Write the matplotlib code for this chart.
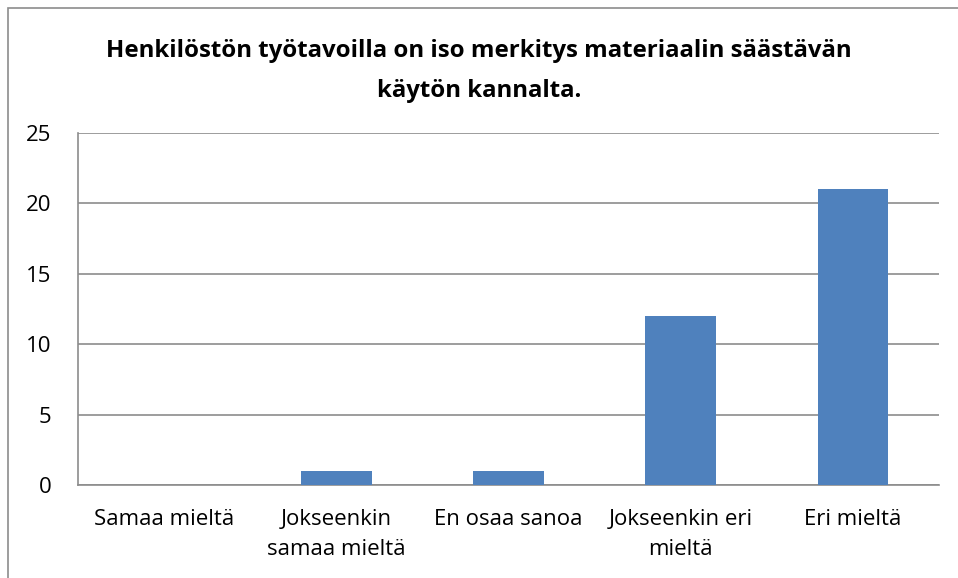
import matplotlib
matplotlib.use("Agg")
import matplotlib.pyplot as plt
from matplotlib.patches import Rectangle

plt.rcParams['font.family'] = ['Open Sans', 'DejaVu Sans']

# data
categories = ["Samaa mieltä", "Jokseenkin\nsamaa mieltä", "En osaa sanoa",
              "Jokseenkin eri\nmieltä", "Eri mieltä"]
values = [0, 1, 1, 12, 21]
yticks = [0, 5, 10, 15, 20, 25]
title = "Henkilöstön työtavoilla on iso merkitys materiaalin säästävän\nkäytön kannalta."

W, H = 958, 578
fig = plt.figure(figsize=(W / 100, H / 100), dpi=100)
fig.patch.set_facecolor('white')

# chart border (cut off on the right and bottom)
fig.patches.append(Rectangle((8 / W, -0.1), 1.2, (H - 8) / H + 0.1,
                             transform=fig.transFigure, fill=False,
                             edgecolor='#8c8c8c', linewidth=1.2))

ax = fig.add_axes([78 / W, (H - 485) / H, 861 / W, 352 / H])
x = range(len(categories))
ax.bar(x, values, width=0.41, color='#4F81BD', zorder=3)

ax.set_xlim(-0.5, len(categories) - 0.5)
ax.set_ylim(0, 25)
ax.set_yticks(yticks)
ax.set_xticks(list(x))
ax.set_xticklabels(categories, fontsize=16, linespacing=1.6)
ax.tick_params(axis='y', labelsize=16, length=0, pad=19)
ax.tick_params(axis='x', length=0, pad=17)

ax.grid(axis='y', color='#8c8c8c', linewidth=1.2, zorder=0)
ax.set_axisbelow(True)
for s in ['top', 'right']:
    ax.spines[s].set_visible(False)
for s in ['left', 'bottom']:
    ax.spines[s].set_color('#8c8c8c')
    ax.spines[s].set_linewidth(1.2)

fig.text(0.5, (H - 71) / H, title, ha='center', va='center',
         fontsize=17.3, fontweight='bold', linespacing=1.85)

fig.savefig("out.png", dpi=100, facecolor='white')
